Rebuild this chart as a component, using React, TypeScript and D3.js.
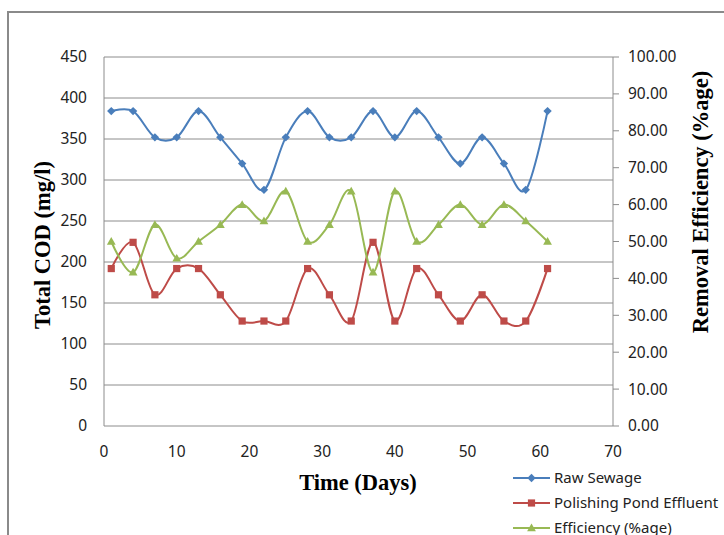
import React from "react";
import * as d3 from "d3";

// days of sampling
const days = [1, 4, 7, 10, 13, 16, 19, 22, 25, 28, 31, 34, 37, 40, 43, 46, 49, 52, 55, 58, 61];
const rawSewage = [384, 384, 352, 352, 384, 352, 320, 288, 352, 384, 352, 352, 384, 352, 384, 352, 320, 352, 320, 288, 384];
const pondEffluent = [192, 224, 160, 192, 192, 160, 128, 128, 128, 192, 160, 128, 224, 128, 192, 160, 128, 160, 128, 128, 192];
const efficiency = [50.0, 41.67, 54.55, 45.45, 50.0, 54.55, 60.0, 55.56, 63.64, 50.0, 54.55, 63.64, 41.67, 63.64, 50.0, 54.55, 60.0, 54.55, 60.0, 55.56, 50.0];

const xTicks = [0, 10, 20, 30, 40, 50, 60, 70];
const leftTicks = [0, 50, 100, 150, 200, 250, 300, 350, 400, 450];
const rightTicks = [0, 10, 20, 30, 40, 50, 60, 70, 80, 90, 100];

const seriesNames = ["Raw Sewage", "Polishing Pond Effluent", "Efficiency (%age)"];
const colors = ["#4A7EBB", "#BE4B48", "#98B954"];

const W = 724;
const H = 535;
const dims = { left: 104, right: 613, top: 57, bottom: 426 };

const tickFont = "'Noto Sans', sans-serif";
const titleFont = "'Liberation Serif', 'Times New Roman', serif";

function Marker({ kind, x, y, color }: { kind: number; x: number; y: number; color: string }) {
  if (kind === 0) {
    const r = 4.2;
    return <path d={`M${x},${y - r}L${x + r},${y}L${x},${y + r}L${x - r},${y}Z`} fill={color} />;
  }
  if (kind === 1) {
    return <rect x={x - 3.6} y={y - 3.6} width={7.2} height={7.2} fill={color} />;
  }
  const s = 4.4;
  return <path d={`M${x},${y - s}L${x + s},${y + s * 0.75}L${x - s},${y + s * 0.75}Z`} fill={color} />;
}

export default function App() {
  const xScale = d3.scaleLinear().domain([0, 70]).range([dims.left, dims.right]);
  const yLeft = d3.scaleLinear().domain([0, 450]).range([dims.bottom, dims.top]);
  const yRight = d3.scaleLinear().domain([0, 100]).range([dims.bottom, dims.top]);

  const line = d3.line<[number, number]>().curve(d3.curveCardinal.tension(0));

  const series = [
    { vals: rawSewage, y: yLeft },
    { vals: pondEffluent, y: yLeft },
    { vals: efficiency, y: yRight },
  ].map((s) => days.map((d, i) => [xScale(d), s.y(s.vals[i])] as [number, number]));

  const legendY = [478, 503, 528];

  return (
    <svg width={W} height={H} style={{ position: "absolute", left: 0, top: 0, background: "#fff" }}>
      <rect x={8} y={12} width={W} height={H} fill="#fff" stroke="#8a8a8a" strokeWidth={2} />

      {leftTicks.map((t) => (
        <line key={t} x1={dims.left} x2={dims.right} y1={yLeft(t)} y2={yLeft(t)} stroke="#8c8c8c" strokeWidth={1} />
      ))}
      <line x1={dims.left} x2={dims.left} y1={dims.top} y2={dims.bottom} stroke="#8c8c8c" />
      <line x1={dims.right} x2={dims.right} y1={dims.top} y2={dims.bottom} stroke="#8c8c8c" />
      {rightTicks.map((t) => (
        <line key={t} x1={dims.right} x2={dims.right + 6} y1={yRight(t)} y2={yRight(t)} stroke="#8c8c8c" />
      ))}

      {leftTicks.map((t) => (
        <text key={t} x={87} y={yLeft(t)} dy="0.35em" textAnchor="end" fontFamily={tickFont} fontSize={15.5} fill="#222">
          {t}
        </text>
      ))}
      {rightTicks.map((t) => (
        <text key={t} x={628} y={yRight(t)} dy="0.35em" textAnchor="start" fontFamily={tickFont} fontSize={15.5} fill="#222">
          {t.toFixed(2)}
        </text>
      ))}
      {xTicks.map((t) => (
        <text key={t} x={xScale(t)} y={452} dy="0.35em" textAnchor="middle" fontFamily={tickFont} fontSize={15.5} fill="#222">
          {t}
        </text>
      ))}

      {series.map((pts, i) => (
        <g key={i}>
          <path d={line(pts) || ""} fill="none" stroke={colors[i]} strokeWidth={2} />
          {pts.map((p, j) => (
            <Marker key={j} kind={i} x={p[0]} y={p[1]} color={colors[i]} />
          ))}
        </g>
      ))}

      <text x={358} y={490} textAnchor="middle" fontFamily={titleFont} fontWeight="bold" fontSize={22.5} fill="#000">
        Time (Days)
      </text>
      <text
        transform={`translate(50,245) rotate(-90)`}
        textAnchor="middle"
        fontFamily={titleFont}
        fontWeight="bold"
        fontSize={22.5}
        fill="#000"
      >
        Total COD (mg/l)
      </text>
      <text
        transform={`translate(708,202) rotate(-90)`}
        textAnchor="middle"
        fontFamily={titleFont}
        fontWeight="bold"
        fontSize={22.5}
        fill="#000"
      >
        Removal Efficiency (%age)
      </text>

      {seriesNames.map((name, i) => (
        <g key={name}>
          <line x1={513} x2={550} y1={legendY[i]} y2={legendY[i]} stroke={colors[i]} strokeWidth={2} />
          <Marker kind={i} x={531.5} y={legendY[i]} color={colors[i]} />
          <text x={554} y={legendY[i]} dy="0.35em" fontFamily={tickFont} fontSize={15} fill="#222">
            {name}
          </text>
        </g>
      ))}
    </svg>
  );
}
